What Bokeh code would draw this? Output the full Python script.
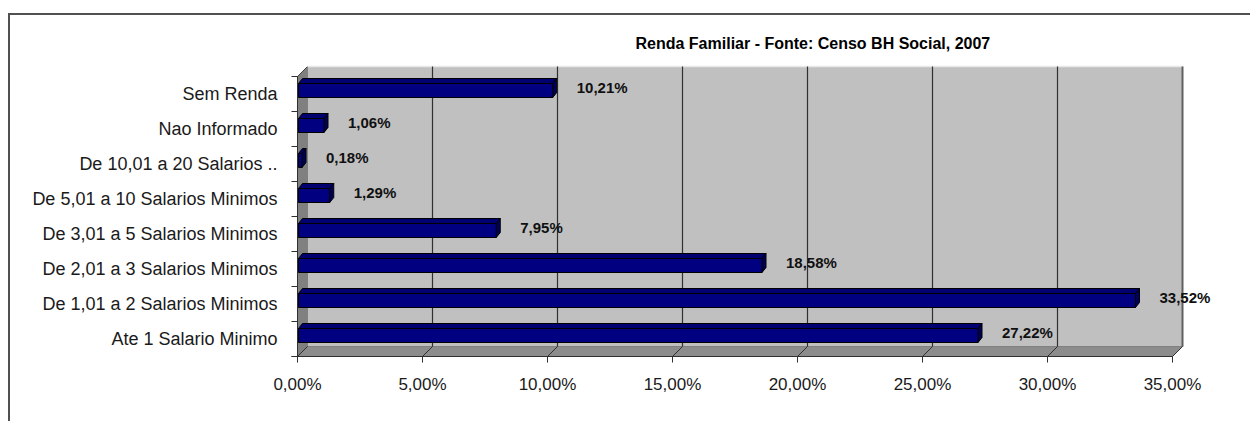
from bokeh.plotting import figure
from bokeh.models import FixedTicker, Title, ColumnDataSource
from bokeh.core.properties import value
from bokeh.embed import file_html
from bokeh.resources import INLINE

# ---- data (bottom to top) ----
categories = [
    "Ate 1 Salario Minimo",
    "De 1,01 a 2 Salarios Minimos",
    "De 2,01 a 3 Salarios Minimos",
    "De 3,01 a 5 Salarios Minimos",
    "De 5,01 a 10 Salarios Minimos",
    "De 10,01 a 20 Salarios ..",
    "Nao Informado",
    "Sem Renda",
]
values = [27.22, 33.52, 18.58, 7.95, 1.29, 0.18, 1.06, 10.21]
x_ticks = [0, 5, 10, 15, 20, 25, 30, 35]
x_tick_labels = ["0,00%", "5,00%", "10,00%", "15,00%", "20,00%", "25,00%", "30,00%", "35,00%"]
title_text = "Renda Familiar - Fonte: Censo BH Social, 2007"

FONT = "Liberation Sans"
PX_X = 25.0   # pixels per 1 %
PX_Y = 35.0   # pixels per category
n = len(categories)
xmax = x_ticks[-1]

# 3D geometry (pixels -> data units)
DX, DY = 10 / PX_X, 10 / PX_Y          # wall depth
BDX, BDY = 4 / PX_X, 5 / PX_Y          # bar depth
BH = 14 / PX_Y                          # bar thickness
BSHIFT = 3.5 / PX_Y                     # bar shift up
y0, y1 = -0.5, n - 0.5

x_start, x_end = -9 / PX_X, (944 - 9) / PX_X
y_start = y0 - 9 / PX_Y
y_end = y_start + 302 / PX_Y

p = figure(frame_width=944, frame_height=302,
           min_border_left=278, min_border_right=18, min_border_top=48, min_border_bottom=56,
           x_range=(x_start, x_end), y_range=(y_start, y_end),
           output_backend="svg", toolbar_location=None, title=None)
p.styles = {"margin-top": "13px", "margin-left": "8px",
            "border-top": "2px solid #505050", "border-left": "2px solid #505050"}
p.outline_line_color = None
p.background_fill_color = "white"
p.border_fill_color = "white"
p.grid.visible = False

p.add_layout(Title(text=title_text, align="left", offset=347, standoff=23, text_font=FONT,
                   text_font_size="16px", text_font_style="bold", text_color="black"), "above")

# floor
p.patch([0, xmax, xmax + DX, DX], [y0, y0, y0 + DY, y0 + DY],
        fill_color="#8c8c8c", line_color="#404040", line_width=1)
# side wall
p.patch([0, DX, DX, 0], [y0, y0 + DY, y1 + DY, y1],
        fill_color="#808080", line_color="#404040", line_width=1)
# back wall
p.patch([DX, xmax + DX, xmax + DX, DX], [y0 + DY, y0 + DY, y1 + DY, y1 + DY],
        fill_color="#c0c0c0", line_color=None)
p.line([DX, xmax + DX], [y1 + DY, y1 + DY], line_color="#e8e8e8", line_width=1.5)
p.line([xmax + DX, xmax + DX], [y0 + DY, y1 + DY], line_color="#606060", line_width=2)

# gridlines on wall and floor
gx = x_ticks[1:-1]
p.segment(x0=[v + DX for v in gx], y0=[y0 + DY] * len(gx), x1=[v + DX for v in gx], y1=[y1 + DY] * len(gx),
          line_color="#303030", line_width=1.2)
p.segment(x0=x_ticks, y0=[y0] * len(x_ticks), x1=[v + DX for v in x_ticks], y1=[y0 + DY] * len(x_ticks),
          line_color="#303030", line_width=1)

# axis lines and ticks (drawn)
p.line([0, 0], [y0, y1], line_color="#303030", line_width=1)
p.line([-6 / PX_X, xmax], [y0, y0], line_color="#303030", line_width=1.2)
bnd = [i - 0.5 for i in range(n + 1)]
p.segment(x0=[-6 / PX_X] * len(bnd), y0=bnd, x1=[0] * len(bnd), y1=bnd, line_color="#303030", line_width=1)
p.segment(x0=x_ticks, y0=[y0] * len(x_ticks), x1=x_ticks, y1=[y0 - 6 / PX_Y] * len(x_ticks),
          line_color="#303030", line_width=1)

# 3D bars
front_xs, front_ys, top_xs, top_ys, side_xs, side_ys = [], [], [], [], [], []
for i, v in enumerate(values):
    yc = i + BSHIFT
    yb, yt = yc - BH / 2, yc + BH / 2
    xl, xr = 0.04, v
    front_xs.append([xl, xr, xr, xl]); front_ys.append([yb, yb, yt, yt])
    top_xs.append([xl, xr, xr + BDX, xl + BDX]); top_ys.append([yt, yt, yt + BDY, yt + BDY])
    side_xs.append([xr, xr + BDX, xr + BDX, xr]); side_ys.append([yb, yb + BDY, yt + BDY, yt])
p.patches(top_xs, top_ys, fill_color="#000070", line_color="black", line_width=1)
p.patches(side_xs, side_ys, fill_color="#000058", line_color="black", line_width=1)
p.patches(front_xs, front_ys, fill_color="#000080", line_color="black", line_width=1)

labels = [f"{v:.2f}".replace(".", ",") + "%" for v in values]
src = ColumnDataSource(dict(x=[v + BDX for v in values], y=list(range(n)), t=labels))
p.text(x="x", y="y", text="t", source=src, x_offset=20, y_offset=-7,
       text_font=value(FONT), text_font_size=value("15px"), text_font_style="bold",
       text_color="#101010", text_baseline="middle", text_align="left")

# axes (labels only)
p.xaxis.ticker = FixedTicker(ticks=x_ticks)
p.xaxis.major_label_overrides = {t: l for t, l in zip(x_ticks, x_tick_labels)}
p.yaxis.ticker = FixedTicker(ticks=list(range(n)))
p.yaxis.major_label_overrides = {i: c for i, c in enumerate(categories)}
for ax in (p.xaxis[0], p.yaxis[0]):
    ax.axis_line_color = None
    ax.major_tick_line_color = None
    ax.minor_tick_line_color = None
    ax.major_tick_out = 0
    ax.major_tick_in = 0
    ax.major_label_text_font = FONT
    ax.major_label_text_color = "#1a1a1a"
p.xaxis.major_label_text_font_size = "17px"
p.xaxis.major_label_standoff = 9
p.yaxis.major_label_text_font_size = "18px"
p.yaxis.major_label_standoff = 11

open("out.html", "w").write(file_html(p, INLINE))
